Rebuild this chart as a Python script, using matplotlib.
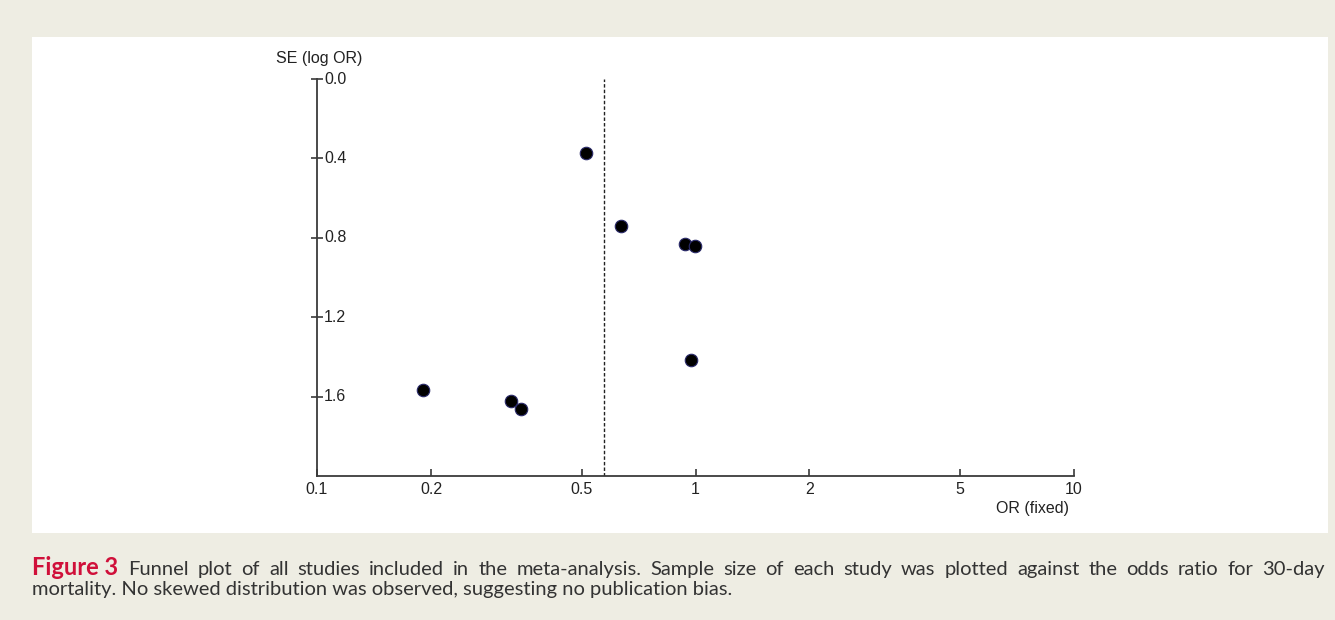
import matplotlib
matplotlib.use("Agg")
import matplotlib.pyplot as plt
from matplotlib.ticker import FixedLocator, FixedFormatter, NullLocator
from matplotlib.transforms import offset_copy

# Data
odds_ratio = [0.514, 0.635, 0.938, 0.997, 0.973, 0.1905, 0.3254, 0.346]
se_log_or = [0.372, 0.740, 0.830, 0.840, 1.414, 1.565, 1.620, 1.660]
pooled_or = 0.573
x_ticks = [0.1, 0.2, 0.5, 1, 2, 5, 10]
x_tick_labels = ["0.1", "0.2", "0.5", "1", "2", "5", "10"]
y_ticks = [0.0, 0.4, 0.8, 1.2, 1.6]
y_tick_labels = ["0.0", "0.4", "0.8", "1.2", "1.6"]

W, H = 1335, 620
fig = plt.figure(figsize=(W / 100, H / 100), dpi=100)
fig.patch.set_facecolor("#EEEDE3")

# white panel
bg = fig.add_axes([32 / W, 1 - 533 / H, (1328 - 32) / W, (533 - 37) / H], zorder=-10)
bg.set_facecolor("white")
bg.set_xticks([]); bg.set_yticks([])
for s in bg.spines.values():
    s.set_visible(False)

ax = fig.add_axes([317 / W, 1 - 476 / H, (1074 - 317) / W, (476 - 79) / H], zorder=1)
ax.set_facecolor("none")
ax.set_xscale("log")
ax.set_xlim(0.1, 10)
ax.set_ylim(2.0, 0.0)

axc = "#3a3a3a"
for s in ["top", "right"]:
    ax.spines[s].set_visible(False)
for s in ["left", "bottom"]:
    ax.spines[s].set_color(axc)
    ax.spines[s].set_linewidth(1.3)

tsize = 11.5
ax.xaxis.set_major_locator(FixedLocator(x_ticks))
ax.xaxis.set_major_formatter(FixedFormatter(x_tick_labels))
ax.xaxis.set_minor_locator(NullLocator())
ax.yaxis.set_major_locator(FixedLocator(y_ticks))
ax.yaxis.set_major_formatter(FixedFormatter(y_tick_labels))
ax.yaxis.set_minor_locator(NullLocator())
ax.tick_params(axis="x", direction="in", length=5, width=1.2, color=axc,
               labelcolor="#222222", pad=4, labelsize=tsize)
ax.tick_params(axis="y", direction="inout", length=8, width=1.2, color=axc,
               labelleft=False, labelright=False, left=True, right=False)
for lab in ax.get_xticklabels():
    lab.set_family("Liberation Sans")

ax.axvline(pooled_or, color="#222222", linestyle=(0, (2.5, 1.5)), linewidth=1.0, zorder=1)
ax.plot(odds_ratio, se_log_or, linestyle="none", marker="o", markersize=9,
        markerfacecolor="black", markeredgecolor="#2a2a6a", markeredgewidth=0.8, zorder=3)

# y tick labels sit just right of the left spine
for yv, lab in zip(y_ticks, y_tick_labels):
    ax.text(0, yv, lab, transform=offset_copy(ax.get_yaxis_transform(), fig=fig, x=7, y=0, units="dots"),
            ha="left", va="center", fontsize=tsize, family="Liberation Sans", color="#222222")

fig.text(319 / W, 1 - 58 / H, "SE (log OR)", ha="center", va="center",
         fontsize=tsize, family="Liberation Sans", color="#222222")
fig.text(1032 / W, 1 - 509 / H, "OR (fixed)", ha="center", va="center",
         fontsize=tsize, family="Liberation Sans", color="#222222")

capfont = ["Lato", "DejaVu Sans"]
capsize = 14.5
y1 = 1 - 575 / H
y2 = 1 - 595 / H
t1 = fig.text(32 / W, y1, "Figure 3", ha="left", va="baseline", fontsize=17,
              family=capfont, fontweight="bold", color="#D0103A")
fig.canvas.draw()
r = fig.canvas.get_renderer()
bb = t1.get_window_extent(r)
line1 = ("Funnel plot of all studies included in the meta-analysis. Sample size of each study "
         "was plotted against the odds ratio for 30-day").split()
start = bb.x1 + 10
end = 1325
words = [fig.text(0, y1, w, ha="left", va="baseline", fontsize=capsize, family=capfont,
                  color="#333333") for w in line1]
widths = [w.get_window_extent(r).width for w in words]
gap = (end - start - sum(widths)) / (len(words) - 1)
x = start
for w, wd in zip(words, widths):
    w.set_x(x / W)
    x += wd + gap
fig.text(32 / W, y2,
         "mortality. No skewed distribution was observed, suggesting no publication bias.",
         ha="left", va="baseline", fontsize=capsize, family=capfont, color="#333333")

fig.savefig("out.png", dpi=100, facecolor=fig.get_facecolor())
